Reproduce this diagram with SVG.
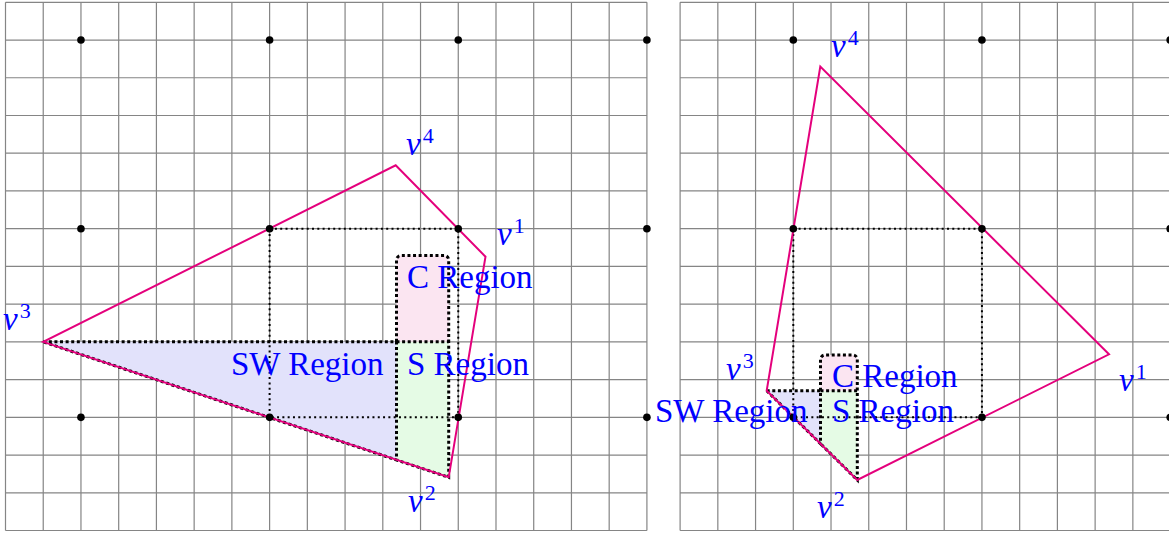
<svg xmlns="http://www.w3.org/2000/svg" width="1169" height="533" viewBox="0 0 1169 533">
<style>
.grid{stroke:#858585;stroke-width:1.2;fill:none}
.poly{stroke:#e4007c;stroke-width:2;fill:none;stroke-linejoin:miter}
.thin{stroke:#000;stroke-width:2;fill:none;stroke-dasharray:2 3.3}
.thick{stroke:#000;stroke-width:3;fill:none;stroke-dasharray:3 2.6}
.sw{fill:#e2e2fb}
.s{fill:#e5fbe5}
.c{fill:#fbe5f1}
.dot{fill:#000}
.lbl{font-family:"Liberation Serif",serif;font-size:33px;fill:#0000ff}
.v{font-family:"Liberation Serif",serif;font-size:33px;font-style:italic;fill:#0000ff}
.sup{font-size:22px;font-style:normal}
</style>
<rect width="1169" height="533" fill="#fff"/>
<g id="grid-left">
<path class="grid" d="M5.5 2.3V530.5M43.23 2.3V530.5M80.96 2.3V530.5M118.69 2.3V530.5M156.42 2.3V530.5M194.15 2.3V530.5M231.88 2.3V530.5M269.61 2.3V530.5M307.34 2.3V530.5M345.07 2.3V530.5M382.8 2.3V530.5M420.53 2.3V530.5M458.26 2.3V530.5M495.99 2.3V530.5M533.72 2.3V530.5M571.45 2.3V530.5M609.18 2.3V530.5M646.91 2.3V530.5M5.5 2.3H646.91M5.5 40.03H646.91M5.5 77.76H646.91M5.5 115.49H646.91M5.5 153.22H646.91M5.5 190.95H646.91M5.5 228.68H646.91M5.5 266.41H646.91M5.5 304.14H646.91M5.5 341.87H646.91M5.5 379.6H646.91M5.5 417.33H646.91M5.5 455.06H646.91M5.5 492.79H646.91M5.5 530.52H646.91"/>
</g>
<g id="grid-right">
<path class="grid" d="M680.1 2.3V530.5M717.83 2.3V530.5M755.56 2.3V530.5M793.29 2.3V530.5M831.02 2.3V530.5M868.75 2.3V530.5M906.48 2.3V530.5M944.21 2.3V530.5M981.94 2.3V530.5M1019.67 2.3V530.5M1057.4 2.3V530.5M1095.13 2.3V530.5M1132.86 2.3V530.5M1170.59 2.3V530.5M680.1 2.3H1171M680.1 40.03H1171M680.1 77.76H1171M680.1 115.49H1171M680.1 153.22H1171M680.1 190.95H1171M680.1 228.68H1171M680.1 266.41H1171M680.1 304.14H1171M680.1 341.87H1171M680.1 379.6H1171M680.1 417.33H1171M680.1 455.06H1171M680.1 492.79H1171M680.1 530.52H1171"/>
</g>
<g id="regions-left">
<path class="sw" d="M43.23 341.87H396.5V459.97Z"/>
<path class="s" d="M396.5 341.87H448.7V477.3L396.5 459.97Z"/>
<path class="c" d="M396.5 341.87V260A4.5 4.5 0 0 1 401 255.5H444.2A4.5 4.5 0 0 1 448.7 260V341.87Z"/>
</g>
<g id="regions-right">
<path class="sw" d="M766.7 390.7H820.5V443.7Z"/>
<path class="s" d="M820.5 390.7H857.3V480L820.5 443.7Z"/>
<path class="c" d="M820.5 390.7V359.5A4.5 4.5 0 0 1 825 355H852.8A4.5 4.5 0 0 1 857.3 359.5V390.7Z"/>
</g>
<g id="connectors">
<path class="thin" d="M269.61 228.68H458.26V417.33H269.61Z"/>
<path class="thin" d="M793.29 228.68H981.94V417.33H793.29Z"/>
<path class="thick" d="M43.23 341.87H396.5V459.97ZM396.5 341.87H448.7V477.3L396.5 459.97M396.5 341.87V260A4.5 4.5 0 0 1 401 255.5H444.2A4.5 4.5 0 0 1 448.7 260V341.87"/>
<path class="thick" d="M766.7 390.7H820.5V443.7ZM820.5 390.7H857.3V480L820.5 443.7M820.5 390.7V359.5A4.5 4.5 0 0 1 825 355H852.8A4.5 4.5 0 0 1 857.3 359.5V390.7"/>
<path class="poly" d="M43.23 341.87L448.7 477.3L485.5 256.7L395.7 165.3Z"/>
<path class="poly" d="M766.7 390.7L857.3 480L1109 354.3L820.3 66.5Z"/>
</g>
<g id="dots">
<circle class="dot" cx="80.96" cy="40.03" r="3.8"/><circle class="dot" cx="269.61" cy="40.03" r="3.8"/><circle class="dot" cx="458.26" cy="40.03" r="3.8"/><circle class="dot" cx="646.91" cy="40.03" r="3.8"/>
<circle class="dot" cx="80.96" cy="228.68" r="3.8"/><circle class="dot" cx="269.61" cy="228.68" r="3.8"/><circle class="dot" cx="458.26" cy="228.68" r="3.8"/><circle class="dot" cx="646.91" cy="228.68" r="3.8"/>
<circle class="dot" cx="80.96" cy="417.33" r="3.8"/><circle class="dot" cx="269.61" cy="417.33" r="3.8"/><circle class="dot" cx="458.26" cy="417.33" r="3.8"/><circle class="dot" cx="646.91" cy="417.33" r="3.8"/>
<circle class="dot" cx="793.29" cy="40.03" r="3.8"/><circle class="dot" cx="981.94" cy="40.03" r="3.8"/><circle class="dot" cx="1170.2" cy="40.03" r="3.8"/>
<circle class="dot" cx="793.29" cy="228.68" r="3.8"/><circle class="dot" cx="981.94" cy="228.68" r="3.8"/><circle class="dot" cx="1170.2" cy="228.68" r="3.8"/>
<circle class="dot" cx="793.29" cy="417.33" r="3.8"/><circle class="dot" cx="981.94" cy="417.33" r="3.8"/><circle class="dot" cx="1170.2" cy="417.33" r="3.8"/>
</g>
<g id="labels-left">
<text class="v" x="406" y="155">v<tspan class="sup" dx="2" dy="-12">4</tspan></text>
<text class="v" x="497" y="245">v<tspan class="sup" dx="2" dy="-12">1</tspan></text>
<text class="v" x="3" y="330">v<tspan class="sup" dx="2" dy="-12">3</tspan></text>
<text class="v" x="408" y="512">v<tspan class="sup" dx="2" dy="-12">2</tspan></text>
<text class="lbl" x="407" y="288">C Region</text>
<text class="lbl" x="231" y="375">SW Region</text>
<text class="lbl" x="407" y="375">S Region</text>
</g>
<g id="labels-right">
<text class="v" x="831" y="57">v<tspan class="sup" dx="2" dy="-12">4</tspan></text>
<text class="v" x="1119" y="391">v<tspan class="sup" dx="2" dy="-12">1</tspan></text>
<text class="v" x="726" y="380">v<tspan class="sup" dx="2" dy="-12">3</tspan></text>
<text class="v" x="817" y="518">v<tspan class="sup" dx="2" dy="-12">2</tspan></text>
<text class="lbl" x="832" y="387">C Region</text>
<text class="lbl" x="655" y="422">SW Region</text>
<text class="lbl" x="832" y="422">S Region</text>
</g>
</svg>
